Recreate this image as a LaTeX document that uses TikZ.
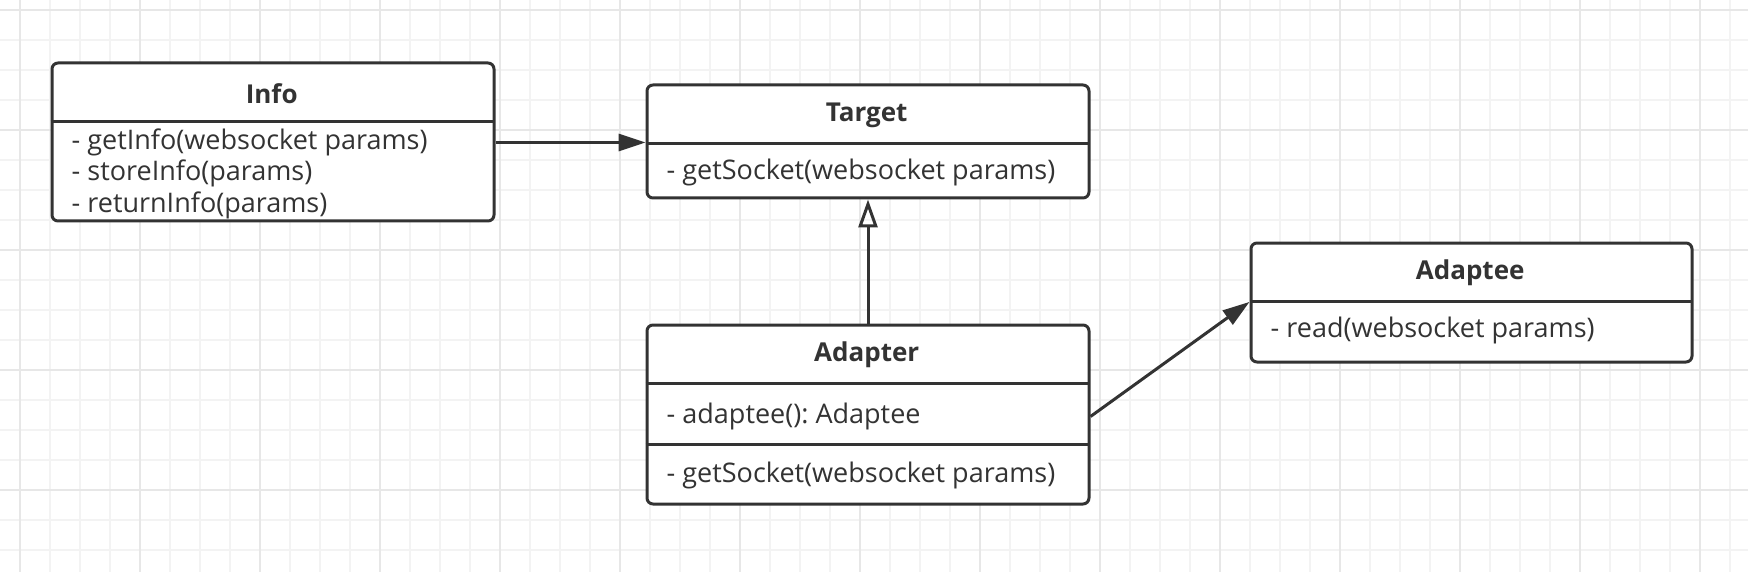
\documentclass[tikz,border=0pt]{standalone}
\usepackage{fontspec}
\setmainfont{Open Sans}
\frenchspacing
\usetikzlibrary{arrows.meta}
\definecolor{umlline}{RGB}{51,51,51}
\definecolor{gridthin}{RGB}{243,243,243}
\definecolor{gridthick}{RGB}{231,231,231}

\tikzset{
  classbox/.style={draw=umlline, line width=3pt, rounded corners=6pt, anchor=north west, inner sep=0pt, fill=white},
  classtitle/.style={anchor=north west, inner sep=0pt, minimum height=60pt},
  classname/.style={text=umlline, font=\fontsize{26}{30}\selectfont\bfseries, yshift=-1.5pt},
  member/.style={anchor=west, inner sep=0pt, yshift=-2pt, font=\fontsize{27}{30}\selectfont, text=umlline},
  divider/.style={draw=umlline, line width=3pt},
  assoc/.style={draw=umlline, line width=3pt, -{Triangle[length=27pt,width=17pt]}},
  inherit/.style={draw=umlline, line width=3pt, -{Triangle[open,length=28pt,width=19pt]}},
}

\begin{document}
\begin{tikzpicture}[x=1pt, y=-1pt]
	\useasboundingbox (0,0) rectangle (1748,572);
	% background grid
	\foreach \x in {20,50,...,1730} \draw[gridthin, line width=2pt] (\x,0) -- (\x,572);
	\foreach \y in {10,40,...,550} \draw[gridthin, line width=2pt] (0,\y) -- (1748,\y);
	\foreach \x in {20,140,...,1700} \draw[gridthick, line width=2pt] (\x,0) -- (\x,572);
	\foreach \y in {10,130,...,490} \draw[gridthick, line width=2pt] (0,\y) -- (1748,\y);

	\begin{scope}[shift={(-1.5,-1.5)}]
	% Info
	\node[classbox, minimum width=442pt, minimum height=158pt] (info) at (52,63) {};
	\node[classtitle, minimum width=442pt] (infotitle) at (info.north west) {};
	\node[classname] (infoname) at (infotitle) {Info};
	\draw[divider] (infotitle.south west) -- (infotitle.south east);
	\node[member] (infoget) at (73,142) {- getInfo(websocket params)};
	\node[member] (infostore) at (73,173) {- storeInfo(params)};
	\node[member] (inforeturn) at (73,205) {- returnInfo(params)};

	% Target
	\node[classbox, minimum width=442pt, minimum height=113pt] (target) at (647,85) {};
	\node[classtitle, minimum width=442pt] (targettitle) at (target.north west) {};
	\node[classname] (targetname) at (targettitle) {Target};
	\draw[divider] (targettitle.south west) -- (targettitle.south east);
	\node[member] (targetget) at (668,172) {- getSocket(websocket params)};

	% Adapter
	\node[classbox, minimum width=442pt, minimum height=179pt] (adapter) at (647,325) {};
	\node[classtitle, minimum width=442pt] (adaptertitle) at (adapter.north west) {};
	\node[classname] (adaptername) at (adaptertitle) {Adapter};
	\draw[divider] (adaptertitle.south west) -- (adaptertitle.south east);
	\node[classtitle, minimum width=442pt] (adapterfields) at (adaptertitle.south west) {};
	\draw[divider] (adapterfields.south west) -- (adapterfields.south east);
	\node[member] (adapterattr) at (668,416) {- adaptee(): Adaptee};
	\node[member] (adapterget) at (668,475) {- getSocket(websocket params)};

	% Adaptee
	\node[classbox, minimum width=441pt, minimum height=119pt] (adaptee) at (1251,243) {};
	\node[classtitle, minimum width=441pt] (adapteetitle) at (adaptee.north west) {};
	\node[classname] (adapteename) at (adapteetitle) {Adaptee};
	\draw[divider] (adapteetitle.south west) -- (adapteetitle.south east);
	\node[member] (adapteeread) at (1272,330) {- read(websocket params)};

	% relations
	\draw[assoc] (info.east |- infoget) -- (target.west |- infoget);
	\draw[inherit] (adapter.north) -- (target.south);
	\draw[assoc] (adapter.east |- adapterattr) -- (adaptee.west |- adapteetitle.south);
	\end{scope}
\end{tikzpicture}
\end{document}
